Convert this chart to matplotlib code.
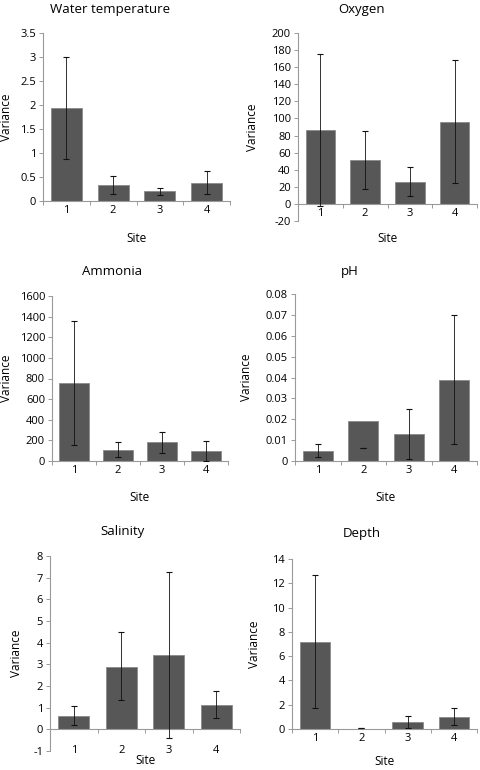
"""Variance per site for six water-quality variables."""

import matplotlib
matplotlib.use("Agg")
import matplotlib.pyplot as plt
import numpy as np

sites = ["1", "2", "3", "4"]

titles = ["Water temperature", "Oxygen", "Ammonia", "pH", "Salinity", "Depth"]

# bar heights, error bar low ends and high ends
means = [
    [1.93, 0.33, 0.20, 0.37],
    [86, 51, 26, 96],
    [755, 110, 180, 98],
    [0.005, 0.019, 0.013, 0.039],
    [0.62, 2.90, 3.45, 1.13],
    [7.2, 0.03, 0.6, 1.0],
]
err_lo = [
    [0.88, 0.15, 0.13, 0.15],
    [-2, 17, 9, 25],
    [160, 35, 80, 3],
    [0.002, 0.006, 0.001, 0.008],
    [0.18, 1.35, -0.38, 0.53],
    [1.7, 0.05, 0.1, 0.35],
]
err_hi = [
    [3.0, 0.52, 0.28, 0.62],
    [175, 85, 43, 168],
    [1355, 185, 285, 195],
    [0.008, 0.006, 0.025, 0.070],
    [1.10, 4.48, 7.28, 1.76],
    [12.7, 0.05, 1.1, 1.72],
]

y_ticks = [
    [0, 0.5, 1, 1.5, 2, 2.5, 3, 3.5],
    [-20, 0, 20, 40, 60, 80, 100, 120, 140, 160, 180, 200],
    [0, 200, 400, 600, 800, 1000, 1200, 1400, 1600],
    [0, 0.01, 0.02, 0.03, 0.04, 0.05, 0.06, 0.07, 0.08],
    [-1, 0, 1, 2, 3, 4, 5, 6, 7, 8],
    [0, 2, 4, 6, 8, 10, 12, 14],
]

W, H = 480, 770
# panel boxes in pixels: left, right, top, bottom, title xy,
# right edge of "Variance", top edge of "Site"
boxes = [
    (43, 230, 33, 201, (110, 9), 13, 232),
    (298, 477, 33, 221, (362, 9), 259, 232),
    (52, 228, 296, 461, (112, 271), 13, 491),
    (295, 477, 294, 461, (350, 271), 253, 491),
    (50, 240, 556, 751, (123, 531), 23, 754),
    (292, 477, 559, 729, (362, 533), 261, 755),
]
label_pad = [3, 3, 3, 3, 11, 3]

plt.rcParams["font.family"] = ["Open Sans", "DejaVu Sans"]

fig = plt.figure(figsize=(W / 100, H / 100), dpi=100)
x = np.arange(1, 5)
axis_grey = "#9a9a9a"

for i in range(6):
    left, right, top, bottom, tpos, ylx, xly = boxes[i]
    ax = fig.add_axes([left / W, 1 - bottom / H, (right - left) / W, (bottom - top) / H])
    ax.bar(x, means[i], width=0.66, color="#575757", edgecolor="#8a8a8a", linewidth=0.6, zorder=2)
    lo = np.array(err_lo[i])
    hi = np.array(err_hi[i])
    ax.errorbar(x, (lo + hi) / 2, yerr=(hi - lo) / 2, fmt="none", ecolor="#111111",
                elinewidth=0.6, capsize=2.2, capthick=0.8, zorder=3)

    ax.set_xlim(0.5, 4.5)
    ax.set_ylim(y_ticks[i][0], y_ticks[i][-1])
    ax.set_yticks(y_ticks[i])
    ax.set_yticklabels([f"{t:g}" for t in y_ticks[i]])
    ax.set_xticks(x)
    ax.set_xticklabels(sites)
    ax.set_xticks([0.5, 1.5, 2.5, 3.5, 4.5], minor=True)

    for s in ["top", "right"]:
        ax.spines[s].set_visible(False)
    ax.spines["bottom"].set_position(("data", 0))
    for s in ["left", "bottom"]:
        ax.spines[s].set_color(axis_grey)
        ax.spines[s].set_linewidth(0.8)

    ax.tick_params(axis="y", length=3, width=0.7, color=axis_grey, labelsize=8, pad=2)
    ax.tick_params(axis="x", which="major", length=0, labelsize=8, pad=label_pad[i])
    ax.tick_params(axis="x", which="minor", length=3, width=0.7, color=axis_grey, direction="out")

    ax.set_ylabel("Variance", fontsize=8.5)
    ax.yaxis.set_label_coords((ylx - left) / (right - left), 0.5)
    ax.set_xlabel("Site", fontsize=8.5)
    ax.xaxis.set_label_coords(0.5, (bottom - xly) / (bottom - top))

    fig.text(tpos[0] / W, 1 - tpos[1] / H, titles[i], fontsize=9.5, ha="center", va="center")

fig.savefig("out.png", dpi=100)
